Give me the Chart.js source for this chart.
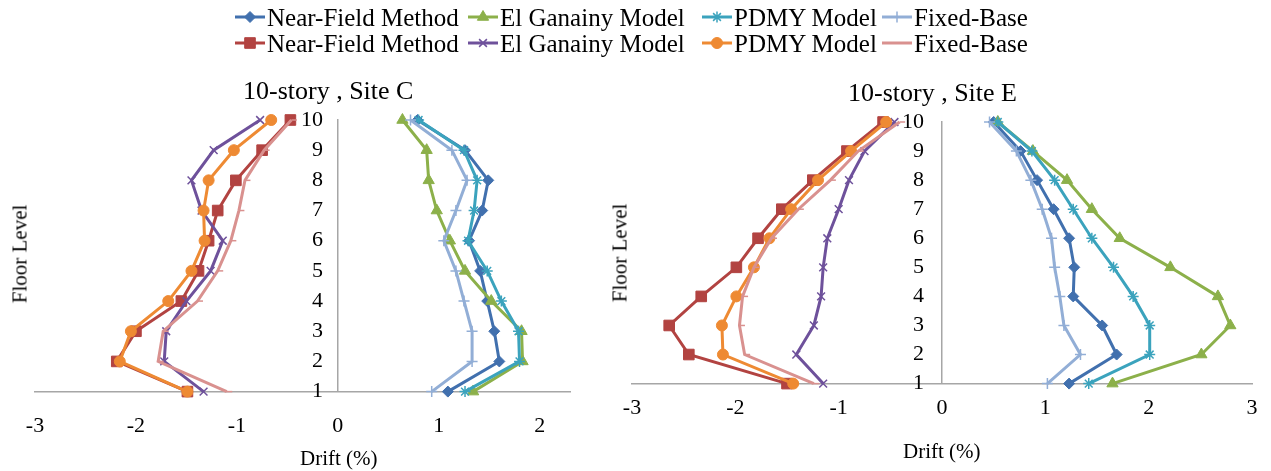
<!DOCTYPE html>
<html>
<head>
<meta charset="utf-8">
<script src="https://cdn.jsdelivr.net/npm/chart.js@4/dist/chart.umd.min.js"></script>
<style>
  body { margin: 0; background: #fff; }
  #wrap { position: relative; width: 1271px; height: 471px; background: #fff; overflow: hidden; font-family: "Liberation Serif", "Times New Roman", serif; color: #000; }
  .box { position: absolute; top: 0; height: 471px; }
  .txt { position: absolute; white-space: nowrap; line-height: 1; z-index: 2; }
  .leg { position: absolute; z-index: 2; }
  .rot { transform: translate(-50%, -50%) rotate(-90deg); }
</style>
</head>
<body>
<div id="wrap">
  <div class="box" style="left:0;width:600px"><canvas id="chartC"></canvas></div>
  <div class="box" style="left:600px;width:671px"><canvas id="chartE"></canvas></div>

  <div class="txt" style="left:243px;top:78px;font-size:26px">10-story , Site C</div>
  <div class="txt" style="left:848px;top:80px;font-size:26px">10-story , Site E</div>
  <div class="txt rot" style="left:20px;top:254px;font-size:21px">Floor Level</div>
  <div class="txt rot" style="left:620px;top:253px;font-size:21px">Floor Level</div>
  <div class="txt" style="left:300px;top:448px;font-size:21px">Drift (%)</div>
  <div class="txt" style="left:903px;top:441px;font-size:21px">Drift (%)</div>
  <div id="legend"></div>
</div>

<script>
// ================= DATA =================
const floors = [1, 2, 3, 4, 5, 6, 7, 8, 9, 10];
const seriesNames = ["Near-Field Method", "El Ganainy Model", "PDMY Model", "Fixed-Base"];
const driftTicksC = [-3, -2, -1, 0, 1, 2];
const driftTicksE = [-3, -2, -1, 0, 1, 2, 3];

// site C (floor 1 -> 10)
const siteC_nearFieldPos = [1.09, 1.60, 1.55, 1.48, 1.41, 1.30, 1.43, 1.49, 1.26, 0.79];
const siteC_ganainyPos   = [1.34, 1.83, 1.82, 1.52, 1.26, 1.11, 0.98, 0.90, 0.88, 0.64];
const siteC_pdmyPos      = [1.26, 1.80, 1.79, 1.62, 1.48, 1.29, 1.35, 1.38, 1.25, 0.80];
const siteC_fixedPos     = [0.93, 1.33, 1.33, 1.25, 1.17, 1.05, 1.17, 1.28, 1.13, 0.72];
const siteC_nearFieldNeg = [-1.49, -2.19, -2.00, -1.55, -1.38, -1.28, -1.19, -1.01, -0.75, -0.47];
const siteC_ganainyNeg   = [-1.33, -1.72, -1.70, -1.50, -1.26, -1.14, -1.35, -1.45, -1.23, -0.77];
const siteC_pdmyNeg      = [-1.49, -2.16, -2.05, -1.68, -1.45, -1.32, -1.33, -1.28, -1.03, -0.66];
const siteC_fixedNeg     = [-1.10, -1.78, -1.73, -1.39, -1.19, -1.06, -0.98, -0.92, -0.73, -0.46];

// site E (floor 1 -> 10)
const siteE_nearFieldPos = [1.23, 1.69, 1.55, 1.27, 1.28, 1.23, 1.08, 0.92, 0.76, 0.50];
const siteE_ganainyPos   = [1.65, 2.51, 2.79, 2.67, 2.21, 1.72, 1.45, 1.21, 0.88, 0.54];
const siteE_pdmyPos      = [1.42, 2.01, 2.01, 1.85, 1.66, 1.45, 1.27, 1.09, 0.87, 0.54];
const siteE_fixedPos     = [1.02, 1.34, 1.18, 1.14, 1.09, 1.06, 0.97, 0.86, 0.72, 0.46];
const siteE_nearFieldNeg = [-1.50, -2.45, -2.64, -2.33, -1.99, -1.78, -1.55, -1.25, -0.92, -0.57];
const siteE_ganainyNeg   = [-1.15, -1.41, -1.24, -1.17, -1.15, -1.11, -1.00, -0.90, -0.75, -0.46];
const siteE_pdmyNeg      = [-1.44, -2.12, -2.13, -1.99, -1.82, -1.67, -1.46, -1.20, -0.88, -0.54];
const siteE_fixedNeg     = [-1.24, -1.91, -1.96, -1.93, -1.82, -1.65, -1.39, -1.08, -0.81, -0.41];

// ================= STYLES =================
// legend order: row 1 = positive side, row 2 = negative side
const styles = [
  { color: "#4170AE", point: "rectRot",  r: 5.5, bw: 1 },
  { color: "#8CB04A", point: "triangle", r: 6.5, bw: 1 },
  { color: "#3BA3BD", point: "star",     r: 5.5, bw: 1.5 },
  { color: "#92AED6", point: "cross",    r: 5.5, bw: 1.5 },
  { color: "#B24341", point: "rect",     r: 7.5, bw: 1 },
  { color: "#6E519B", point: "crossRot", r: 5.5, bw: 1.5 },
  { color: "#EE8A33", point: "circle",   r: 5.5, bw: 1 },
  { color: "#D9918F", point: "dash",     r: 5.5, bw: 1.5 }
];

const FONT = "'Liberation Serif', 'Times New Roman', serif";

function makeSet(i, values) {
  const st = styles[i];
  return {
    label: seriesNames[i % 4],
    data: values.map((v, k) => ({ x: v, y: floors[k] })),
    borderColor: st.color,
    backgroundColor: st.color,
    borderWidth: 3,
    pointStyle: st.point,
    pointRadius: st.r,
    pointBorderWidth: st.bw,
    pointHoverRadius: st.r,
    tension: 0,
    clip: false,
    order: 8 - i
  };
}

// labelAt = x value where the floor numbers sit (a bit left of the zero line)
function makeOptions(xMax, xTicks, tickPad, padding, labelAt) {
  const tickFont = { family: FONT, size: 22 };
  return {
    responsive: true,
    maintainAspectRatio: false,
    animation: false,
    layout: { padding: padding },
    plugins: { legend: { display: false }, tooltip: { enabled: false } },
    scales: {
      x: {
        type: "linear",
        position: "bottom",
        min: -3,
        max: xMax,
        afterBuildTicks: (scale) => { scale.ticks = xTicks.map(v => ({ value: v })); },
        grid: { display: false, drawTicks: false },
        border: { color: "#a6a6a6", width: 1.5 },
        ticks: { padding: tickPad, color: "#000", font: tickFont, autoSkip: false }
      },
      y: {
        type: "linear",
        position: { x: 0 },
        min: 1,
        max: 10,
        grid: { display: false, drawTicks: false },
        border: { color: "#a6a6a6", width: 1.5 },
        ticks: { display: false, stepSize: 1 }
      },
      yLabels: {
        type: "linear",
        position: { x: labelAt },
        min: 1,
        max: 10,
        grid: { display: false, drawTicks: false },
        border: { display: false },
        ticks: { stepSize: 1, autoSkip: false, padding: 0, color: "#000", font: tickFont }
      }
    }
  };
}

// ================= CHART SITE C =================
new Chart(document.getElementById("chartC"), {
  type: "line",
  data: {
    datasets: [
      makeSet(0, siteC_nearFieldPos), makeSet(1, siteC_ganainyPos),
      makeSet(2, siteC_pdmyPos), makeSet(3, siteC_fixedPos),
      makeSet(4, siteC_nearFieldNeg), makeSet(5, siteC_ganainyNeg),
      makeSet(6, siteC_pdmyNeg), makeSet(7, siteC_fixedNeg)
    ]
  },
  options: makeOptions(2.3, driftTicksC, 21, { top: 120, left: 35, right: 30, bottom: 11 }, -0.147)
});

// ================= CHART SITE E =================
new Chart(document.getElementById("chartE"), {
  type: "line",
  data: {
    datasets: [
      makeSet(0, siteE_nearFieldPos), makeSet(1, siteE_ganainyPos),
      makeSet(2, siteE_pdmyPos), makeSet(3, siteE_fixedPos),
      makeSet(4, siteE_nearFieldNeg), makeSet(5, siteE_ganainyNeg),
      makeSet(6, siteE_pdmyNeg), makeSet(7, siteE_fixedNeg)
    ]
  },
  options: makeOptions(3, driftTicksE, 11, { top: 122, left: 32, right: 19, bottom: 39 }, -0.174)
});

// ================= LEGEND =================
const legendCols = [235, 468, 702, 882];
const legendRows = [17, 43];
const legendEl = document.getElementById("legend");

styles.forEach((st, i) => {
  const col = i % 4, row = Math.floor(i / 4);
  const cv = document.createElement("canvas");
  cv.width = 32; cv.height = 16;
  cv.className = "leg";
  cv.style.left = legendCols[col] + "px";
  cv.style.top = (legendRows[row] - 8) + "px";
  legendEl.appendChild(cv);

  const ctx = cv.getContext("2d");
  ctx.strokeStyle = st.color;
  ctx.fillStyle = st.color;
  ctx.lineWidth = 3;
  ctx.beginPath();
  ctx.moveTo(0, 8);
  ctx.lineTo(30, 8);
  ctx.stroke();
  if (st.point !== "dash" && Chart.helpers && Chart.helpers.drawPoint) {
    ctx.lineWidth = st.bw;
    Chart.helpers.drawPoint(ctx, { pointStyle: st.point, radius: st.r, rotation: 0, borderWidth: st.bw }, 15, 8);
  }

  const tx = document.createElement("div");
  tx.className = "txt";
  tx.style.fontSize = "25px";
  tx.style.left = (legendCols[col] + 32) + "px";
  tx.style.top = (legendRows[row] - 12) + "px";
  tx.textContent = seriesNames[col];
  legendEl.appendChild(tx);
});
</script>
</body>
</html>
